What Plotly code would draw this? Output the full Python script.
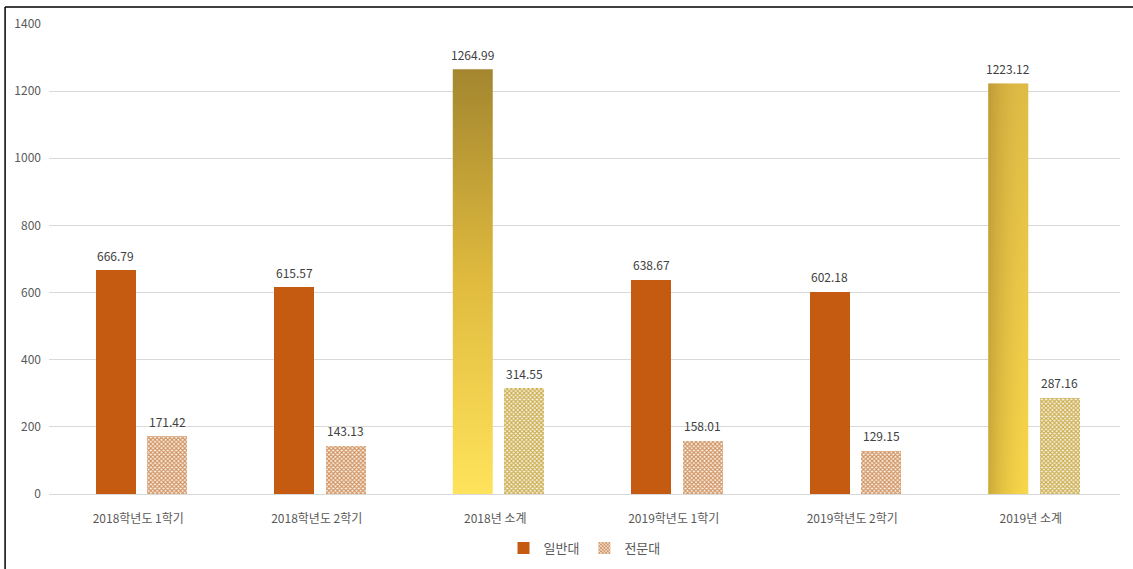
import plotly.graph_objects as go

# 학기별 일반대 / 전문대 값
categories = ["2018학년도 1학기", "2018학년도 2학기", "2018년 소계",
              "2019학년도 1학기", "2019학년도 2학기", "2019년 소계"]
general = [666.79, 615.57, 1264.99, 638.67, 602.18, 1223.12]
college = [171.42, 143.13, 314.55, 158.01, 129.15, 287.16]
is_subtotal = [False, False, True, False, False, True]

FONT = "Noto Sans CJK KR, Malgun Gothic, sans-serif"
ORANGE = "#c55a11"
BAR_W = 0.224
OFF_GEN = -0.238
OFF_COL = 0.051

xs = list(range(len(categories)))

fig = go.Figure()

gen_colors = ["rgba(0,0,0,0)" if s else ORANGE for s in is_subtotal]
fig.add_trace(go.Bar(
    name="일반대", x=xs, y=general, width=BAR_W, offset=OFF_GEN,
    marker=dict(color=gen_colors, line=dict(width=0)),
    hoverinfo="x+y",
))

pat_fg = ["#c9ad4c" if s else "#cf9060" for s in is_subtotal]
fig.add_trace(go.Bar(
    name="전문대", x=xs, y=college, width=BAR_W, offset=OFF_COL,
    marker=dict(color="white", line=dict(width=0),
                pattern=dict(shape="x", fgcolor=pat_fg, bgcolor="#fbf3e6",
                             size=3, solidity=0.6, fillmode="replace")),
    hoverinfo="x+y",
))

# 소계 막대: 그라데이션 채우기
for i, (v, s) in enumerate(zip(general, is_subtotal)):
    if not s:
        continue
    x0 = i + OFF_GEN
    x1 = x0 + BAR_W
    px = [x0, x1, x1, x0, x0]
    py = [0, 0, v, v, 0]
    if i == 2:
        fig.add_trace(go.Scatter(
            x=px, y=py, mode="lines", line=dict(width=0), fill="toself",
            fillgradient=dict(type="vertical",
                              colorscale=[[0, "#ffe35c"], [0.5, "#e0bb3e"], [1, "#a3862f"]]),
            showlegend=False, hoverinfo="skip"))
    else:
        fig.add_trace(go.Scatter(
            x=px, y=py, mode="lines", line=dict(width=0), fill="toself",
            fillgradient=dict(type="vertical",
                              colorscale=[[0, "#f7d448"], [1, "#d9b444"]]),
            showlegend=False, hoverinfo="skip"))
        fig.add_trace(go.Scatter(
            x=px, y=py, mode="lines", line=dict(width=0), fill="toself",
            fillgradient=dict(type="horizontal",
                              colorscale=[[0, "rgba(170,135,45,0.55)"],
                                          [1, "rgba(255,225,80,0.15)"]]),
            showlegend=False, hoverinfo="skip"))

# 값 레이블
for i in xs:
    for v, off in ((general[i], OFF_GEN), (college[i], OFF_COL)):
        fig.add_annotation(
            x=i + off + BAR_W / 2, y=v, text=f"{v:.2f}", showarrow=False,
            yshift=15, font=dict(family=FONT, size=12, color="#404040"))

# 외곽선 (위, 왼쪽)
fig.add_shape(type="line", xref="paper", yref="paper",
              x0=-0.041, x1=1.02, y0=1.036, y1=1.036,
              line=dict(color="black", width=1.5))
fig.add_shape(type="line", xref="paper", yref="paper",
              x0=-0.041, x1=-0.041, y0=1.036, y1=-0.2,
              line=dict(color="black", width=1.5))

fig.update_layout(
    width=1133, height=569,
    margin=dict(l=49, r=13, t=24, b=75, autoexpand=False),
    paper_bgcolor="white", plot_bgcolor="white",
    font=dict(family=FONT, size=12, color="#595959"),
    showlegend=True,
    legend=dict(orientation="h", x=0.5, xanchor="center",
                yref="container", y=0.037, yanchor="middle",
                font=dict(size=13, color="#595959"),
                itemwidth=30, tracegroupgap=0),
    xaxis=dict(range=[-0.5, 5.5], tickmode="array", tickvals=xs,
               ticktext=categories, showgrid=False, zeroline=False,
               showline=True, linecolor="#d9d9d9", linewidth=1,
               ticks="", ticklabelstandoff=14, automargin=False,
               tickfont=dict(size=12, color="#595959")),
    yaxis=dict(range=[0, 1400], dtick=200, showgrid=True,
               gridcolor="#d9d9d9", gridwidth=1, zeroline=False,
               showline=False, ticks="", ticklabelstandoff=7, automargin=False,
               tickfont=dict(size=12, color="#595959")),
    bargap=0,
)

fig.write_html("out.html")
